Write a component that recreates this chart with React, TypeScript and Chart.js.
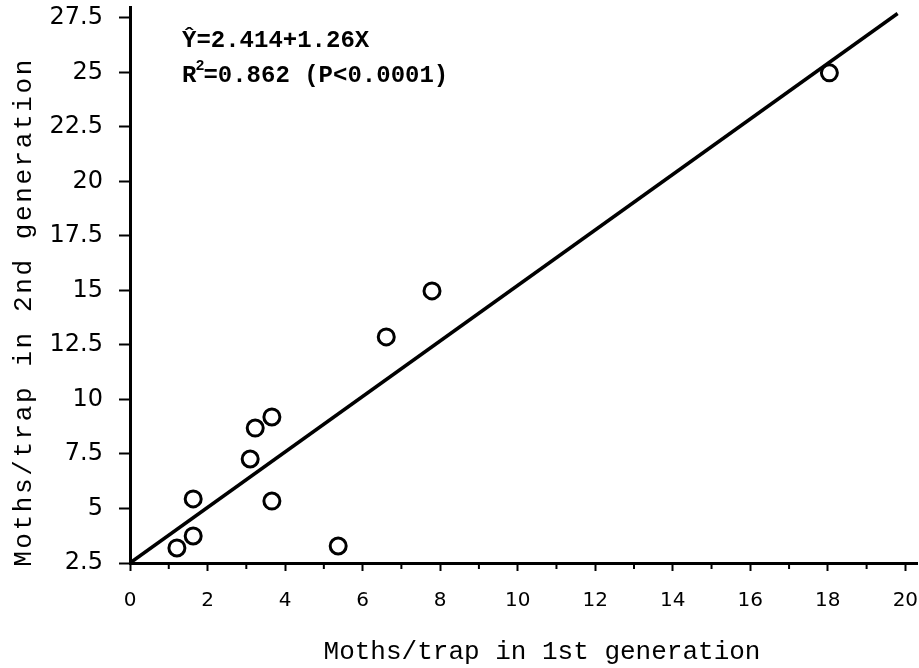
import React, { useEffect, useRef } from 'react';
import { Chart, registerables } from 'chart.js';

Chart.register(...registerables);

// Observed data: moths/trap in 1st generation (x) vs 2nd generation (y)
const firstGen = [1.21, 1.63, 1.63, 3.1, 3.23, 3.66, 3.66, 5.37, 6.61, 7.79, 18.04];
const secondGen = [3.19, 3.74, 5.44, 7.27, 8.69, 9.2, 5.34, 3.28, 12.87, 14.98, 24.98];

// Regression line end points
const lineX = [0, 19.8];
const lineY = [2.5, 27.7];

const xMajorTicks = [0, 2, 4, 6, 8, 10, 12, 14, 16, 18, 20];
const xMinorTicks = [1, 3, 5, 7, 9, 11, 13, 15, 17, 19];
const yTicks = [2.5, 5, 7.5, 10, 12.5, 15, 17.5, 20, 22.5, 25, 27.5];

const xTitle = 'Moths/trap in 1st generation';
const yTitle = 'Moths/trap in 2nd generation';
const eqLine1 = 'Ŷ=2.414+1.26X';
const eqLine2a = 'R';
const eqLine2sup = '2';
const eqLine2b = '=0.862 (P<0.0001)';

const MONO = '"Liberation Mono", "DejaVu Sans Mono", monospace';
const TICKFONT = '"DejaVu Sans", sans-serif';

const decorPlugin = {
  id: 'decor',
  afterDraw(chart: any) {
    const ctx = chart.ctx;
    const xs = chart.scales.x;
    const area = chart.chartArea;
    ctx.save();
    // minor x ticks
    ctx.strokeStyle = '#000';
    ctx.lineWidth = 2;
    xMinorTicks.forEach((v) => {
      const px = xs.getPixelForValue(v);
      ctx.beginPath();
      ctx.moveTo(px, area.bottom);
      ctx.lineTo(px, area.bottom + 6);
      ctx.stroke();
    });
    // equation text
    ctx.fillStyle = '#000';
    ctx.textBaseline = 'alphabetic';
    ctx.textAlign = 'left';
    ctx.font = `bold 24px ${MONO}`;
    const tx = 182;
    ctx.fillText(eqLine1, tx, 47);
    ctx.fillText(eqLine2a, tx, 82);
    const w1 = ctx.measureText(eqLine2a).width;
    ctx.font = `bold 15px ${MONO}`;
    ctx.fillText(eqLine2sup, tx + w1 - 1, 70);
    const w2 = ctx.measureText(eqLine2sup).width;
    ctx.font = `bold 24px ${MONO}`;
    ctx.fillText(eqLine2b, tx + w1 + w2 - 2, 82);
    // x title
    ctx.font = `26px ${MONO}`;
    ctx.textAlign = 'center';
    ctx.fillText(xTitle, 542, 659);
    // y title
    ctx.translate(31, 312);
    ctx.rotate(-Math.PI / 2);
    ctx.font = `26px ${MONO}`;
    try { (ctx as any).letterSpacing = '2.6px'; } catch (e) {}
    ctx.fillText(yTitle, 0, 0);
    ctx.restore();
  },
};

export default function App() {
  const ref = useRef<HTMLCanvasElement>(null);
  useEffect(() => {
    document.body.style.margin = '0';
    const canvas = ref.current!;
    const chart = new Chart(canvas, {
      type: 'scatter',
      data: {
        datasets: [
          {
            type: 'line',
            label: 'fit',
            data: lineX.map((x, i) => ({ x, y: lineY[i] })),
            borderColor: '#000',
            borderWidth: 3.5,
            pointRadius: 0,
            fill: false,
          } as any,
          {
            label: 'obs',
            data: firstGen.map((x, i) => ({ x, y: secondGen[i] })),
            pointStyle: 'circle',
            pointRadius: 8,
            borderWidth: 3,
            borderColor: '#000',
            backgroundColor: '#fff',
          },
        ],
      },
      options: {
        responsive: false,
        animation: false,
        layout: { autoPadding: false, padding: { top: 7, right: 2, left: 0, bottom: 0 } },
        plugins: { legend: { display: false }, tooltip: { enabled: false } },
        scales: {
          x: {
            type: 'linear',
            min: 0,
            max: 20.3,
            afterBuildTicks: (scale: any) => {
              scale.ticks = xMajorTicks.map((v) => ({ value: v }));
            },
            afterFit: (scale: any) => {
              scale.height = 105;
              scale.paddingLeft = 0;
              scale.paddingRight = 0;
            },
            ticks: {
              color: '#000',
              font: { family: TICKFONT, size: 20 },
              padding: 18,
              callback: (v: any) => String(v),
              maxRotation: 0,
              autoSkip: false,
            },
            grid: { drawOnChartArea: false, tickLength: 8, tickColor: '#000', tickWidth: 2 },
            border: { color: '#000', width: 3 },
            title: { display: false },
          },
          y: {
            type: 'linear',
            min: 2.5,
            max: 28,
            afterBuildTicks: (scale: any) => {
              scale.ticks = yTicks.map((v) => ({ value: v }));
            },
            afterFit: (scale: any) => {
              scale.width = 130;
              scale.paddingTop = 0;
              scale.paddingBottom = 0;
            },
            ticks: {
              color: '#000',
              font: { family: TICKFONT, size: 24 },
              padding: 16,
              callback: (v: any) => String(v),
              autoSkip: false,
            },
            grid: { drawOnChartArea: false, tickLength: 11, tickColor: '#000', tickWidth: 2 },
            border: { color: '#000', width: 3 },
            title: { display: false },
          },
        },
      },
      plugins: [decorPlugin],
    });
    return () => chart.destroy();
  }, []);
  return <canvas ref={ref} width={919} height={668} style={{ display: 'block' }} />;
}
